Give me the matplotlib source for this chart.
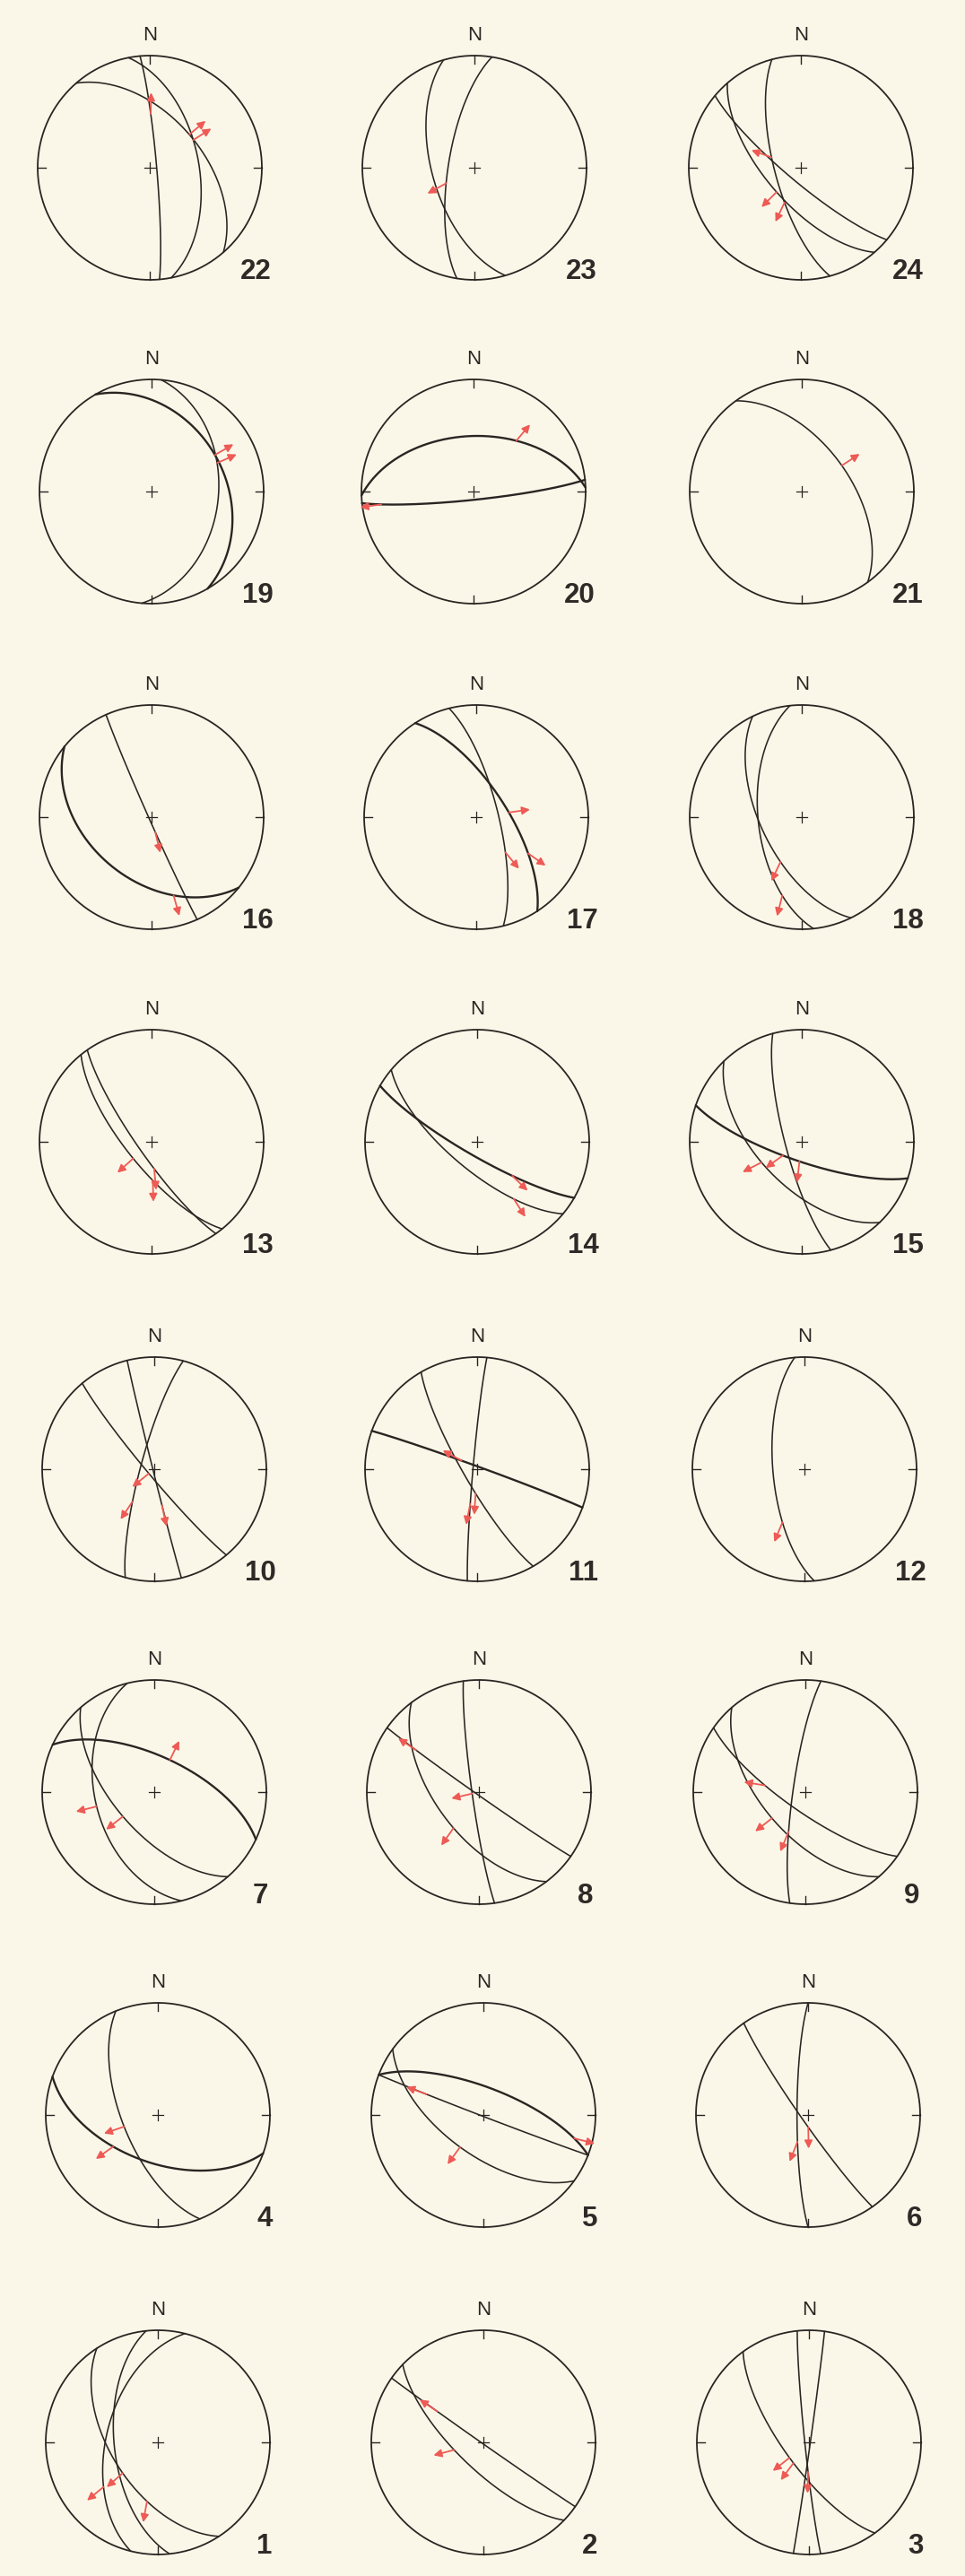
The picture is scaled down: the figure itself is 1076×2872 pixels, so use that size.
import numpy as np
import matplotlib
matplotlib.use('Agg')
import matplotlib.pyplot as plt

# --- Data: fault planes (dip direction, dip) and striae (plane index, trend, plunge, sense) ---
# sense: +1 = arrow points away from centre (normal), -1 = towards centre (reverse)
PANEL_IDS = list(range(1, 25))

PLANES = [
    [(237, 56), (284, 52), (264, 58)],            # 1
    [(224, 71), (215, 89)],                        # 2
    [(264, 87), (98, 89), (234, 72)],              # 3
    [(248, 64), (200, 55)],                        # 4
    [(21, 70), (201, 89), (216, 61)],              # 5
    [(270, 82), (235, 85)],                        # 6
    [(25, 64), (256, 46), (229, 61)],              # 7
    [(262, 85), (215, 88), (233, 59)],             # 8
    [(278, 81), (229, 59), (215, 76)],             # 9
    [(256, 89), (285, 80), (230, 85)],             # 10
    [(275, 87), (240, 80), (20, 88)],              # 11
    [(265, 67)],                                   # 12
    [(231, 72), (235, 80)],                        # 13
    [(220, 70), (210, 80)],                        # 14
    [(255, 78), (226, 58), (199, 76)],             # 15
    [(246, 88), (219, 43)],                        # 16
    [(76, 74), (57, 68)],                          # 17
    [(244, 60), (264, 58)],                        # 18
    [(60, 35), (95, 40)],                          # 19
    [(174, 84), (358, 49)],                        # 20
    [(54, 55)],                                    # 21
    [(85, 85), (79, 54), (49, 52)],                # 22
    [(254, 59), (279, 71)],                        # 23
    [(255, 71), (229, 65), (220, 80)],             # 24
]

STRIAE = [
    [(1, 231, 37, 1), (0, 230, 49, 1), (0, 193, 43, 1)],
    [(1, 309, 49, 1), (0, 254, 67, 1)],
    [(2, 232, 69, 1), (2, 216, 72, 1), (0, 188, 68, 1)],
    [(0, 251, 64, 1), (1, 235, 50, 1)],
    [(1, 295, 45, 1), (0, 103, 17, 1), (2, 216, 55, 1)],
    [(1, 180, 81, 1), (0, 202, 69, 1)],
    [(0, 26, 64, 1), (1, 256, 44, 1), (2, 232, 60, 1)],
    [(1, 306, 33, 1), (0, 257, 85, 1), (2, 214, 60, 1)],
    [(2, 283, 61, 1), (1, 232, 60, 1), (0, 205, 58, 1)],
    [(2, 231, 84, 1), (1, 216, 61, 1), (0, 166, 63, 1)],
    [(2, 300, 77, 1), (1, 180, 73, 1), (0, 195, 64, 1)],
    [(0, 199, 49, 1)],
    [(0, 228, 71, 1), (1, 176, 70, 1), (0, 180, 61, 1)],
    [(1, 134, 54, 1), (0, 148, 39, 1)],
    [(1, 244, 59, 1), (2, 234, 73, 1), (2, 188, 74, 1)],
    [(0, 180, 78, 1), (1, 166, 26, 1)],
    [(1, 83, 67, 1), (0, 139, 56, 1), (1, 123, 42, 1)],
    [(0, 207, 52, 1), (1, 195, 28, 1)],
    [(0, 60, 33, 1), (1, 67, 35, 1)],
    [(1, 39, 39, 1), (0, 262, 18, 1)],
    [(0, 57, 55, 1)],
    [(0, 4, 50, 1), (1, 58, 51, 1), (2, 50, 52, 1)],
    [(1, 242, 66, 1)],
    [(0, 289, 67, 1), (1, 225, 65, 1), (0, 205, 62, 1)],
]

# planes drawn with a heavier pen in the original
THICK = {4: [1], 5: [0], 7: [0], 11: [2], 14: [1], 15: [2], 16: [1],
         17: [1], 19: [0], 20: [0, 1]}

# --- Layout (pixels) ---
W, H = 1076, 2872
R = 125.0
HALF = 175.0
ROW_Y = [187, 548, 911, 1273, 1638, 1998, 2358, 2723]
COL_X = [
    [167, 529, 893],
    [169, 528, 894],
    [169, 531, 894],
    [169, 532, 894],
    [172, 532, 897],
    [172, 534, 898],
    [176, 539, 901],
    [176, 539, 902],
]

BG = '#fbf7e8'
INK = '#2a2522'
RED = '#ee5a55'
ARROW_LEN = 0.19


def project(trend, plunge):
    """Lower hemisphere equal-area (Schmidt) projection, unit primitive."""
    t = np.radians(trend)
    rho = np.sqrt(2) * np.sin(np.radians(90 - np.asarray(plunge)) / 2)
    return rho * np.sin(t), rho * np.cos(t)


def plane_vectors(dd, dip):
    s = np.radians(dd - 90)
    strike = np.array([np.sin(s), np.cos(s), 0.0])
    a, d = np.radians(dd), np.radians(dip)
    down = np.array([np.cos(d) * np.sin(a), np.cos(d) * np.cos(a), np.sin(d)])
    return strike, down


def great_circle(dd, dip, n=241):
    strike, down = plane_vectors(dd, dip)
    r = np.linspace(0, np.pi, n)
    v = np.outer(np.cos(r), strike) + np.outer(np.sin(r), down)
    trend = np.degrees(np.arctan2(v[:, 0], v[:, 1]))
    plunge = np.degrees(np.arcsin(np.clip(v[:, 2], 0, 1)))
    return project(trend, plunge)


def onto_plane(trend, plunge, dd, dip):
    """Move a measured lineation onto its fault plane."""
    strike, down = plane_vectors(dd, dip)
    nrm = np.cross(strike, down)
    nrm /= np.linalg.norm(nrm)
    t, p = np.radians(trend), np.radians(plunge)
    v = np.array([np.cos(p) * np.sin(t), np.cos(p) * np.cos(t), np.sin(p)])
    v = v - v.dot(nrm) * nrm
    v /= np.linalg.norm(v)
    if v[2] < 0:
        v = -v
    return np.degrees(np.arctan2(v[0], v[1])), np.degrees(np.arcsin(min(v[2], 1.0)))


plt.rcParams['font.family'] = ['Liberation Sans', 'DejaVu Sans']

fig = plt.figure(figsize=(W / 100, H / 100), dpi=100, facecolor=BG)

for num, planes, striae in zip(PANEL_IDS, PLANES, STRIAE):
    row = 7 - (num - 1) // 3
    col = (num - 1) % 3
    cx, cy = COL_X[row][col], ROW_Y[row]
    ax = fig.add_axes([(cx - HALF) / W, 1 - (cy + HALF) / H, 2 * HALF / W, 2 * HALF / H])
    ax.set_xlim(-HALF / R, HALF / R)
    ax.set_ylim(-HALF / R, HALF / R)
    ax.axis('off')

    # primitive circle, ticks and centre cross
    th = np.linspace(0, 2 * np.pi, 400)
    ax.plot(np.cos(th), np.sin(th), color=INK, lw=1.3)
    for ang in (0, 90, 180, 270):
        a = np.radians(ang)
        ax.plot([np.sin(a), 0.93 * np.sin(a)], [np.cos(a), 0.93 * np.cos(a)], color=INK, lw=1.0)
    ax.plot([-0.045, 0.045], [0, 0], color=INK, lw=0.9)
    ax.plot([0, 0], [-0.045, 0.045], color=INK, lw=0.9)

    # great circles
    thick = THICK.get(num, [])
    for i, (dd, dip) in enumerate(planes):
        x, y = great_circle(dd, dip)
        ax.plot(x, y, color=INK, lw=1.7 if i in thick else 1.15, solid_capstyle='round')

    # slip arrows on the striae
    for pi, trend, plunge, sense in striae:
        dd, dip = planes[pi]
        t2, p2 = onto_plane(trend, plunge, dd, dip)
        x0, y0 = project(t2, p2)
        ux, uy = np.sin(np.radians(t2)) * sense, np.cos(np.radians(t2)) * sense
        ax.annotate('', xy=(x0 + ARROW_LEN * ux, y0 + ARROW_LEN * uy), xytext=(x0, y0),
                    arrowprops=dict(arrowstyle='-|>', color=RED, lw=1.3,
                                    mutation_scale=13, shrinkA=0, shrinkB=0), zorder=5)

    ax.text(0, 1.18, 'N', ha='center', va='center', fontsize=16, color=INK)
    ax.text(0.95, -0.93, str(num), ha='center', va='center', fontsize=22.5,
            fontweight='bold', color='#2f2a27')

fig.savefig('out.png', dpi=100, facecolor=BG)
